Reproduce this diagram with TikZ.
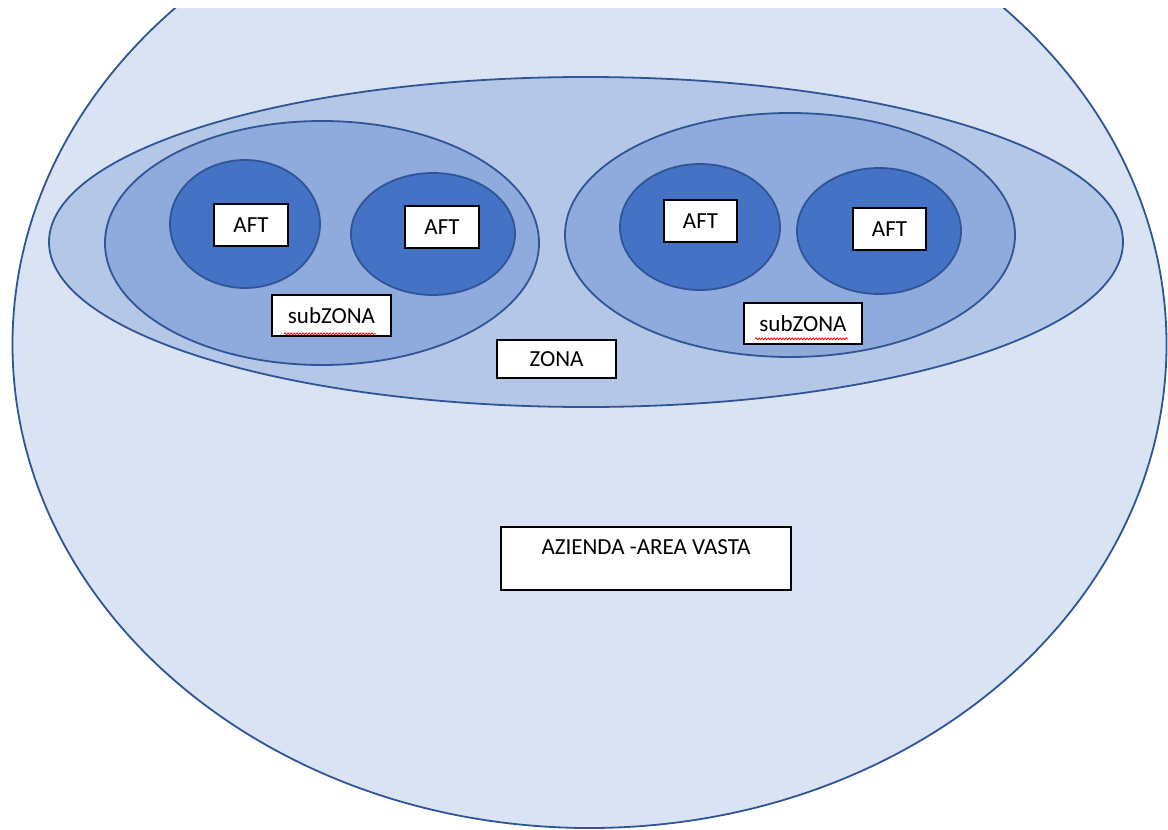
\documentclass[tikz,border=0pt]{standalone}
\usepackage{fontspec}
\setmainfont{Carlito}
\usetikzlibrary{decorations.pathmorphing}
\definecolor{vasta}{HTML}{DAE3F3}
\definecolor{zona}{HTML}{B4C7E7}
\definecolor{subzona}{HTML}{8FAADC}
\definecolor{aft}{HTML}{4472C4}
\definecolor{rim}{HTML}{2F5597}

\begin{document}
\begin{tikzpicture}[x=1pt,y=-1pt,
    every node/.style={font=\fontsize{23}{27}\selectfont},
    lbl/.style={draw=black,line width=1.6pt,fill=white,inner sep=0pt},
    ring/.style={draw=rim,line width=1.8pt},
    typo/.style={red,line width=0.8pt,decorate,decoration={snake,amplitude=0.9pt,segment length=3pt}}]
    \useasboundingbox (0,0) rectangle (1168,830);

    % azienda - area vasta (top cut off)
    \begin{scope}
        \clip (0,8) rectangle (1168,830);
        \filldraw[ring,fill=vasta] (589.5,344.5) ellipse [x radius=577,y radius=483.5];
    \end{scope}

    % zona
    \filldraw[ring,fill=zona] (586,242) ellipse [x radius=537,y radius=165];

    % 2 subzone
    \filldraw[ring,fill=subzona] (322,243) ellipse [x radius=217,y radius=122];
    \filldraw[ring,fill=subzona] (790,235) ellipse [x radius=225,y radius=122];

    % 4 AFT
    \filldraw[ring,fill=aft] (245,224) ellipse [x radius=75,y radius=64];
    \filldraw[ring,fill=aft] (433,234) ellipse [x radius=82,y radius=61];
    \filldraw[ring,fill=aft] (700,227) ellipse [x radius=80,y radius=63];
    \filldraw[ring,fill=aft] (879,231) ellipse [x radius=82,y radius=63];

    % labels
    \node[lbl,minimum width=74pt,minimum height=42pt] (aft1) at (251,225) {AFT\hspace{8pt}};
    \node[lbl,minimum width=74pt,minimum height=42pt] (aft2) at (442,227) {AFT};
    \node[lbl,minimum width=73pt,minimum height=42pt] (aft3) at (700.5,221) {AFT\hspace{4pt}};
    \node[lbl,minimum width=73pt,minimum height=42pt] (aft4) at (889.5,229) {AFT};
    \node[lbl,minimum width=119pt,minimum height=41pt] (subzl) at (331.5,315.5) {subZONA};
    \node[lbl,minimum width=118pt,minimum height=41pt] (subzr) at (803,323.5) {subZONA};
    \node[lbl,minimum width=119pt,minimum height=38pt] (zonabox) at (556.5,359) {ZONA};
    \node[lbl,minimum width=290pt,minimum height=63pt] (azienda) at (646,558.5) {};
    \node[anchor=north,inner sep=0pt] (aziendatxt) at ([yshift=-13pt]azienda.north) {AZIENDA -AREA VASTA};

    % spell check marks
    \draw[typo] ([xshift=13pt,yshift=3pt]subzl.south west) -- ([xshift=-16pt,yshift=3pt]subzl.south east);
    \draw[typo] ([xshift=12pt,yshift=6pt]subzr.south west) -- ([xshift=-15pt,yshift=6pt]subzr.south east);
\end{tikzpicture}
\end{document}
